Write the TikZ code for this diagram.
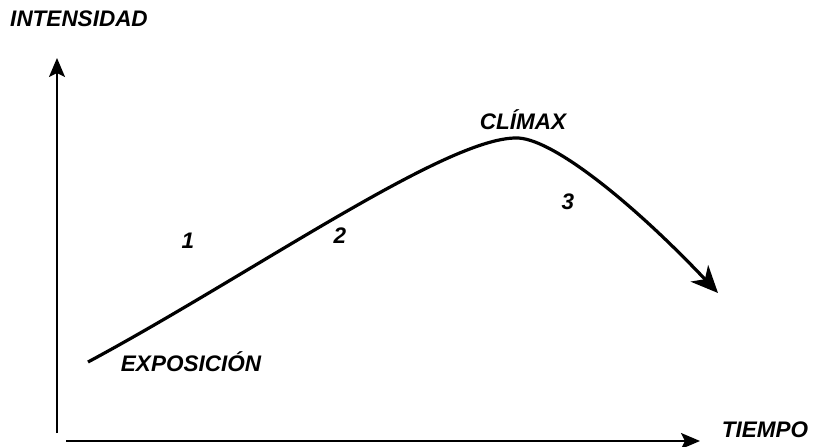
\documentclass[tikz,border=0pt]{standalone}
\usepackage{fontspec}
\setmainfont{Liberation Sans}
\usetikzlibrary{arrows.meta}
\begin{document}
\begin{tikzpicture}[x=1pt,y=-1pt,
  lbl/.style={font=\fontsize{22.5}{22.5}\selectfont\bfseries\itshape, inner sep=0pt},
  axis/.style={line width=2pt, -{Stealth[length=19pt,width=16pt,inset=4pt]}},
  plot/.style={line width=3.2pt, -{Stealth[length=27pt,width=24pt,inset=8pt]}}]
\useasboundingbox (0,0) rectangle (814,447);
\coordinate (yb) at (57,433);
\coordinate (yt) at (57,58);
\coordinate (xl) at (66,441);
\coordinate (xr) at (700,441);
\draw[axis] (yb) -- (yt);
\draw[axis] (xl) -- (xr);
\node[lbl] (int) at (79,19) {INTENSIDAD};
\node[lbl] (tie) at (765,430) {TIEMPO};
\coordinate (s) at (88,362);
\coordinate (p) at (516,138);
\coordinate (e) at (718,293);
\draw[plot] (s) .. controls (250,275) and (445,138) .. (p) .. controls (550,137) and (630,200) .. (e);
\node[lbl] (cl) at (523,120) {CLÍMAX};
\node[lbl] (ex) at (191,362) {EXPOSICIÓN};
\node[lbl] (n1) at (188,241) {1};
\node[lbl] (n2) at (340,236) {2};
\node[lbl] (n3) at (568,202) {3};
\end{tikzpicture}
\end{document}
